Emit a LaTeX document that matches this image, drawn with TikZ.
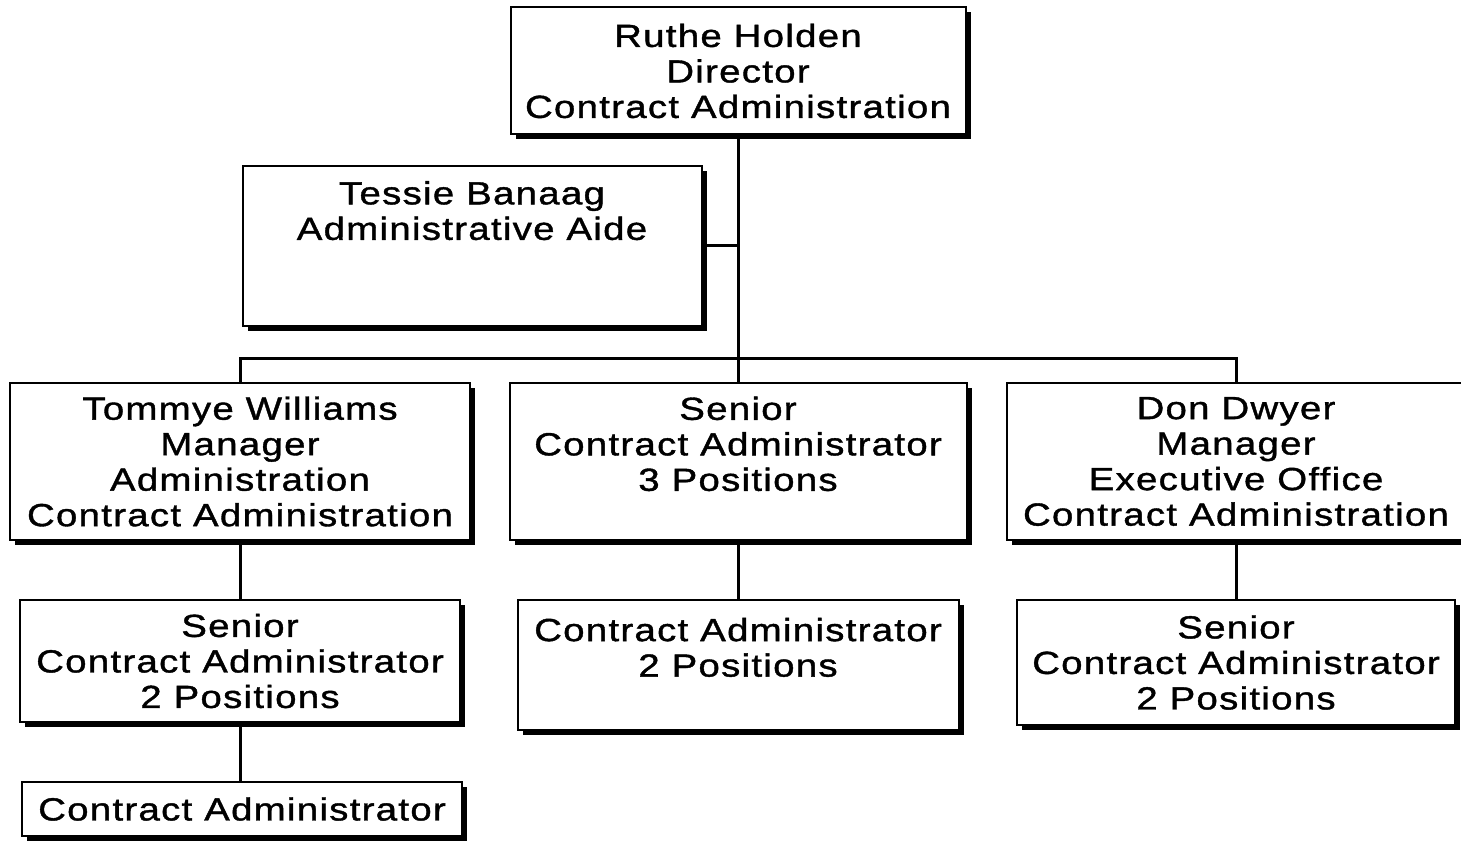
\documentclass[tikz,border=0pt]{standalone}
\usepackage{fontspec}
\newfontfamily\orgfont{Liberation Sans}[FakeStretch=1.2,LetterSpace=4,FakeBold=1.2]
\usetikzlibrary{shadows}

\tikzset{
  orgbox/.style={draw, line width=2pt, fill=white, inner sep=0pt,
    align=center, font=\orgfont\fontsize{32}{35.5}\selectfont,
    drop shadow={shadow xshift=5pt, shadow yshift=-5pt, fill=black, opacity=1}},
  link/.style={line width=3pt}
}

\begin{document}
\begin{tikzpicture}[x=1pt, y=-1pt]
        \useasboundingbox (0,0) rectangle (1461,842);
        % Director
        \node[orgbox, minimum width=455pt, minimum height=127pt] (dir) at (738,71) {Ruthe Holden\\Director\\Contract Administration};
        % Aide
        \node[orgbox, minimum width=459pt, minimum height=160pt] (aide) at (472,246) {Tessie Banaag\\Administrative Aide\\~\\~};
        % Managers and seniors
        \node[orgbox, minimum width=460pt, minimum height=157pt] (mgrA) at (240,461.5) {Tommye Williams\\Manager\\Administration\\Contract Administration};
        \node[orgbox, minimum width=457pt, minimum height=157pt] (senB) at (738,461.5) {Senior\\Contract Administrator\\3 Positions\\~};
        \node[orgbox, minimum width=458pt, minimum height=157pt] (mgrC) at (1236,461.5) {Don Dwyer\\Manager\\Executive Office\\Contract Administration};
        % Second level
        \node[orgbox, minimum width=440pt, minimum height=122pt] (senA) at (240,661) {Senior\\Contract Administrator\\2 Positions};
        \node[orgbox, minimum width=441pt, minimum height=130pt] (admB) at (738,665) {Contract Administrator\\2 Positions\\~};
        \node[orgbox, minimum width=438pt, minimum height=125pt] (senC) at (1236,662.5) {Senior\\Contract Administrator\\2 Positions};
        % Third level
        \node[orgbox, minimum width=440pt, minimum height=54pt] (admA) at (242,809) {Contract Administrator};
        % Bus
        \coordinate (bus) at (738,358);
        \draw[link] (dir.south) -- (bus);
        \draw[link] (aide.east) -- (aide.east -| bus);
        \draw[link] (mgrA.north) |- (bus) -| (mgrC.north);
        \draw[link] (senB.north) -- (bus);
        % Reports
        \draw[link] (mgrA.south) -- (mgrA.south |- senA.north);
        \draw[link] (senB.south) -- (admB.north);
        \draw[link] (mgrC.south) -- (senC.north);
        \draw[link] (senA.south) -- (senA.south |- admA.north);
    \end{tikzpicture}
\end{document}
